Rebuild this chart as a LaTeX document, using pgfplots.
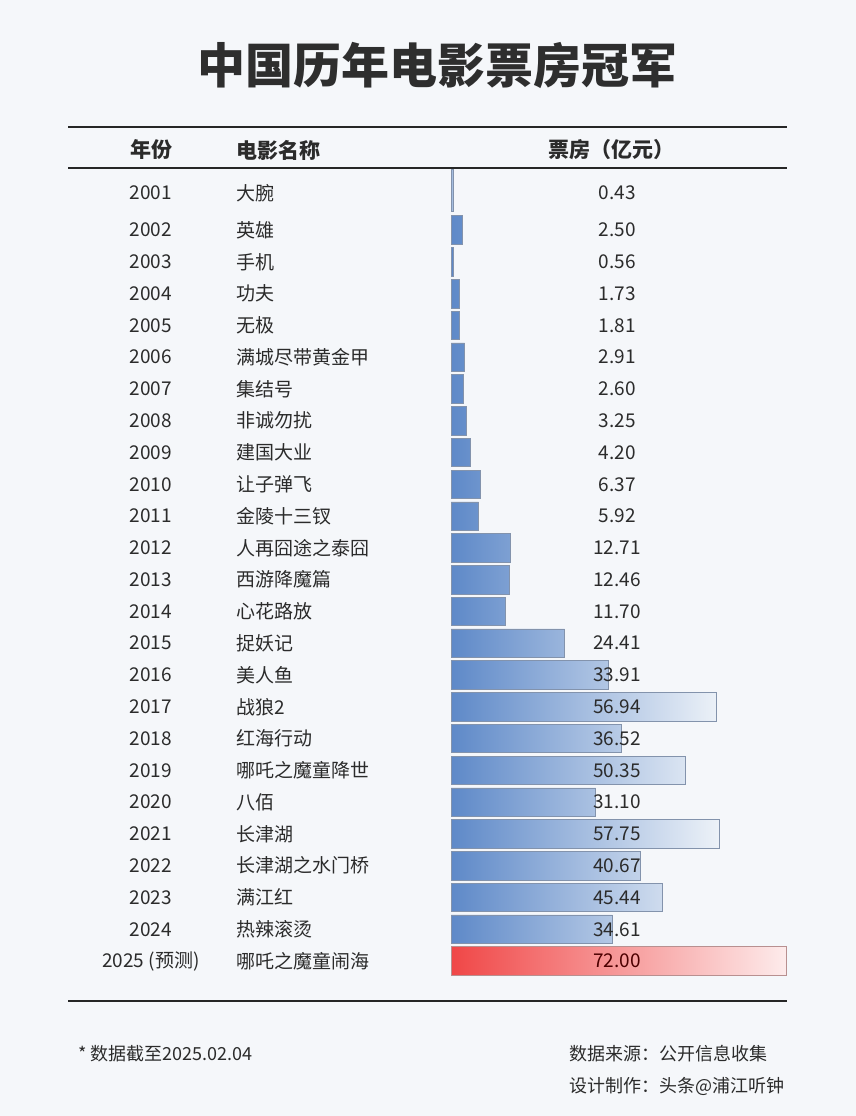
\documentclass[border=0pt]{standalone}
\usepackage{pgfplots}
\usepackage{pgfplotstable}
\pgfplotsset{compat=1.18}
\usepackage{fontspec}
\setmainfont{Noto Sans CJK SC}
\definecolor{bg}{HTML}{F5F7FA}
\definecolor{barL}{HTML}{5E89C8}
\definecolor{barR}{HTML}{EDF2F8}
\definecolor{barE}{HTML}{8393AC}
\definecolor{redL}{HTML}{F04747}
\definecolor{redR}{HTML}{FDEBEB}
\definecolor{redE}{HTML}{B89090}
\definecolor{txt}{HTML}{2B2B2B}

\pgfplotstableread[col sep=comma]{
idx,tidx,val,lab,year,name
-0.24,-0.164,0.43,0.43,2001,大腕
}\first
\pgfplotstableread[col sep=comma]{
idx,tidx,val,lab,year,name
1,1,2.50,2.50,2002,英雄
2,2,0.56,0.56,2003,手机
3,3,1.73,1.73,2004,功夫
4,4,1.81,1.81,2005,无极
5,5,2.91,2.91,2006,满城尽带黄金甲
6,6,2.60,2.60,2007,集结号
7,7,3.25,3.25,2008,非诚勿扰
8,8,4.20,4.20,2009,建国大业
9,9,6.37,6.37,2010,让子弹飞
10,10,5.92,5.92,2011,金陵十三钗
11,11,12.71,12.71,2012,人再囧途之泰囧
12,12,12.46,12.46,2013,西游降魔篇
13,13,11.70,11.70,2014,心花路放
14,14,24.41,24.41,2015,捉妖记
15,15,33.91,33.91,2016,美人鱼
16,16,56.94,56.94,2017,战狼2
17,17,36.52,36.52,2018,红海行动
18,18,50.35,50.35,2019,哪吒之魔童降世
19,19,31.10,31.10,2020,八佰
20,20,57.75,57.75,2021,长津湖
21,21,40.67,40.67,2022,长津湖之水门桥
22,22,45.44,45.44,2023,满江红
23,23,34.61,34.61,2024,热辣滚烫
}\blue
\pgfplotstableread[col sep=comma]{
idx,tidx,val,lab,year,name
24,24,72.00,72.00,2025 (预测),哪吒之魔童闹海
}\red

\begin{document}
\begin{tikzpicture}
\fill[bg] (0pt,0pt) rectangle (856pt,-1116pt);
\node[font=\fontsize{48pt}{52pt}\selectfont\bfseries, text=black!82] at (437pt,-65pt) {中国历年电影票房冠军};
\draw[line width=1.5pt, black!85] (68pt,-127pt) -- (787pt,-127pt);
\draw[line width=1.5pt, black!85] (68pt,-168pt) -- (787pt,-168pt);
\draw[line width=1.5pt, black!85] (68pt,-1001pt) -- (787pt,-1001pt);
\node[font=\fontsize{21pt}{24pt}\selectfont\bfseries, text=txt] at (151pt,-150pt) {年份};
\node[font=\fontsize{21pt}{24pt}\selectfont\bfseries, text=txt, anchor=west] at (233pt,-150pt) {电影名称};
\node[font=\fontsize{21pt}{24pt}\selectfont\bfseries, text=txt] at (611pt,-150pt) {票房（亿元）};
\node[font=\fontsize{18pt}{20pt}\selectfont, text=txt, anchor=west] at (75pt,-1054pt) {* 数据截至2025.02.04};
\node[font=\fontsize{18pt}{20pt}\selectfont, text=txt, anchor=west] at (566pt,-1054pt) {数据来源：公开信息收集};
\node[font=\fontsize{18pt}{20pt}\selectfont, text=txt, anchor=west] at (566pt,-1086pt) {设计制作：头条@浦江听钟};
\begin{axis}[
  at={(451pt,-976.9pt)}, anchor=south west,
  scale only axis, width=335pt, height=762.8pt,
  xmin=0, xmax=72, ymin=0.5, ymax=24.5, y dir=reverse,
  axis lines=none, ticks=none, clip=false,
  every node near coord/.append style={font=\fontsize{19pt}{22pt}\selectfont, text=txt},
  lab/.style={draw=none, mark=none, nodes near coords, point meta=explicit symbolic, nodes near coords align={center}},
]
\addplot[xbar, bar shift=0pt, bar width=42pt, draw=barE, line width=0.6pt, left color=barL, right color=barR] table[x=val, y=idx] \first;
\addplot[xbar, bar shift=0pt, bar width=28.5pt, draw=barE, line width=0.6pt, left color=barL, right color=barR] table[x=val, y=idx] \blue;
\addplot[xbar, bar shift=0pt, bar width=28.5pt, draw=redE, line width=0.6pt, left color=redL, right color=redR] table[x=val, y=idx] \red;
% value labels
\addplot[lab] table[x expr=35.7, y=tidx, meta=lab] \first;
\addplot[lab] table[x expr=35.7, y=tidx, meta=lab] \blue;
\addplot[lab, every node near coord/.append style={text=red!30!black}] table[x expr=35.7, y=tidx, meta=lab] \red;
% years
\addplot[lab] table[x expr=-64.5, y=tidx, meta=year] \first;
\addplot[lab] table[x expr=-64.5, y=tidx, meta=year] \blue;
\addplot[lab] table[x expr=-64.5, y=tidx, meta=year] \red;
% names
\addplot[lab, every node near coord/.append style={anchor=west}] table[x expr=-46.8, y=tidx, meta=name] \first;
\addplot[lab, every node near coord/.append style={anchor=west}] table[x expr=-46.8, y=tidx, meta=name] \blue;
\addplot[lab, every node near coord/.append style={anchor=west}] table[x expr=-46.8, y=tidx, meta=name] \red;
\end{axis}
\end{tikzpicture}
\end{document}
